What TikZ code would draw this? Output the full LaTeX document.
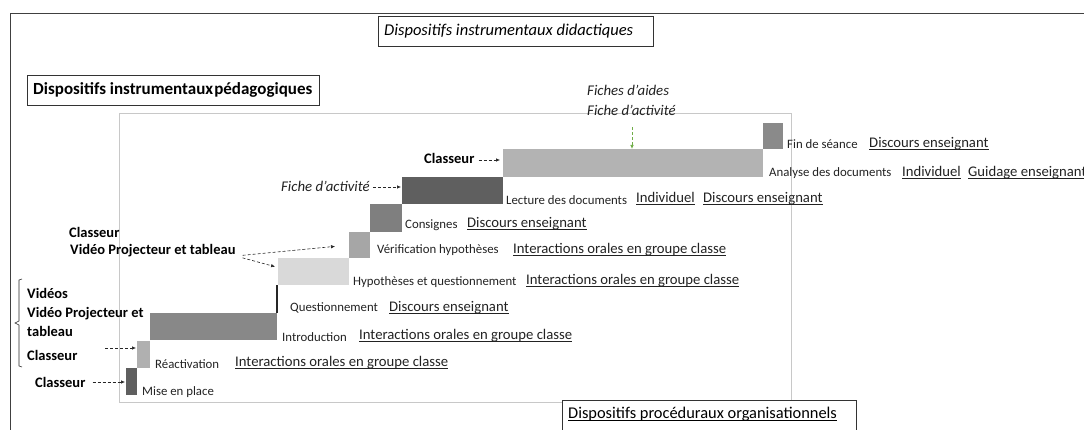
\documentclass[tikz,border=0pt]{standalone}
\usepackage{fontspec}
\setmainfont{Carlito}
\usetikzlibrary{arrows.meta}
\newcommand\myul[1]{\setbox0\hbox{#1}\rlap{\raisebox{-2.4pt}{\rule{\wd0}{1pt}}}\box0}
\definecolor{txt}{HTML}{222222}
\definecolor{frameg}{HTML}{C8C8C8}
\definecolor{cA}{HTML}{5F5F5F}
\definecolor{cB}{HTML}{B0B0B0}
\definecolor{cC}{HTML}{888888}
\definecolor{cD}{HTML}{D9D9D9}
\definecolor{cE}{HTML}{A6A6A6}
\definecolor{cF}{HTML}{7F7F7F}
\definecolor{cG}{HTML}{B3B3B3}
\definecolor{cH}{HTML}{8A8A8A}
\definecolor{grn}{HTML}{70AD47}
\tikzset{
  bar/.style={draw=none, inner sep=0pt, outer sep=0pt, anchor=north west},
  steplabel/.style={anchor=west, inner sep=0pt, text=txt, font=\fontsize{12.8}{14}\selectfont},
  ulabel/.style={anchor=west, inner sep=0pt, text=txt, font=\fontsize{14.7}{16}\selectfont},
  blabel/.style={anchor=west, inner sep=0pt, text=black, font=\bfseries\fontsize{14.5}{19}\selectfont, align=left},
  ilabel/.style={anchor=west, inner sep=0pt, text=txt, font=\itshape\fontsize{14.8}{20}\selectfont, align=left},
  titlebox/.style={draw=black!80, line width=0.8pt, anchor=north west, inner sep=0pt, text=black},
  darr/.style={densely dashed, line width=0.6pt, black!85, -{Latex[length=4pt,width=3.5pt]}},
}
\begin{document}
\begin{tikzpicture}[x=1pt,y=-1pt]
\useasboundingbox (0,0) rectangle (1084,430);
% outer frame
\draw[black!75, line width=0.8pt] (10,430) -- (10,13) -- (1090,13);
% inner light frame
\draw[frameg, line width=0.6pt] (119,113) rectangle (791,402);

% title boxes
\node[titlebox, minimum width=275pt, minimum height=30pt, fill=white] (tdid) at (378,16) {};
\node[anchor=west, inner sep=0pt, font=\itshape\fontsize{16.5}{18}\selectfont] (tdidt) at (384,31) {Dispositifs\ instrumentaux didactiques};
\node[titlebox, minimum width=292pt, minimum height=30pt] (tped) at (27,75) {};
\node[anchor=west, inner sep=0pt, font=\bfseries\fontsize{17}{19}\selectfont] (tpedt) at (33,90) {Dispositifs instrumentaux\kern1pt pédagogiques};
\node[titlebox, minimum width=294pt, minimum height=34pt, fill=white] (tproc) at (562,400) {};
\node[anchor=west, inner sep=0pt, font=\fontsize{16.4}{18}\selectfont] (tproct) at (568,414) {\myul{Dispositifs\ procéduraux organisationnels}};

% bars
\node[bar, fill=cA, minimum width=11pt, minimum height=27pt] (b1) at (126,368) {};
\node[bar, fill=cB, minimum width=13pt, minimum height=27pt] (b2) at (137,341) {};
\node[bar, fill=cC, minimum width=127pt, minimum height=27pt] (b3) at (150,313) {};
\draw[black!85, line width=1.2pt] (b3.north east) coordinate (qbot) -- ++(0,-28) coordinate (qtop);
\node[bar, fill=cD, minimum width=71pt, minimum height=27pt] (b5) at (278,258) {};
\node[bar, fill=cE, minimum width=21pt, minimum height=26pt] (b6) at (349,232) {};
\node[bar, fill=cF, minimum width=32pt, minimum height=28pt] (b7) at (370,204) {};
\node[bar, fill=cA, minimum width=101pt, minimum height=27pt] (b8) at (402,177) {};
\node[bar, fill=cG, minimum width=260pt, minimum height=28pt] (b9) at (503,149) {};
\node[bar, fill=cH, minimum width=20pt, minimum height=26pt] (b10) at (763,123) {};

% step labels
\node[steplabel] (l1) at (142,392) {Mise en place};
\node[steplabel] (l2) at (155,364) {Réactivation};
\node[ulabel] (u2) at (235,363) {\myul{Interactions orales en groupe classe}};
\node[steplabel] (l3) at (282,337) {Introduction};
\node[ulabel] (u3) at (359,336) {\myul{Interactions orales en groupe classe}};
\node[steplabel] (l4) at (290,308) {Questionnement};
\node[ulabel] (u4) at (389,308) {\myul{Discours enseignant}};
\node[steplabel] (l5) at (353,282) {Hypothèses\ et questionnement};
\node[ulabel] (u5) at (526,281) {\myul{Interactions orales en groupe classe}};
\node[steplabel] (l6) at (377,250) {Vérification hypothèses};
\node[ulabel] (u6) at (513,250) {\myul{Interactions orales en groupe classe}};
\node[steplabel] (l7) at (405,225) {Consignes};
\node[ulabel] (u7) at (467,224) {\myul{Discours enseignant}};
\node[steplabel] (l8) at (506,200) {Lecture des documents};
\node[ulabel] (u8a) at (636,199) {\myul{Individuel}};
\node[ulabel] (u8b) at (703,199) {\myul{Discours enseignant}};
\node[steplabel] (l9) at (769,173) {Analyse des documents};
\node[ulabel] (u9a) at (902,173) {\myul{Individuel}};
\node[ulabel] (u9b) at (968,173) {\myul{Guidage enseignant}};
\node[steplabel] (l10) at (787,144) {Fin\ de séance};
\node[ulabel] (u10) at (869,144) {\myul{Discours enseignant}};

% left annotations
\node[blabel] (cl1) at (35,382) {Classeur};
\node[blabel] (grp) at (27,324) {Vidéos\\Vidéo Projecteur et\\tableau\\[5pt]Classeur};
\coordinate (cl2) at (77,348);
\draw[black!85, line width=0.6pt] (22,279) -- (19,280) -- (19,321) -- (15,323) -- (19,325) -- (19,366) -- (22,367);
\node[blabel] (cl3) at (69,232) {Classeur};
\node[blabel] (vp) at (70,251) {Vidéo Projecteur et tableau};
\node[ilabel] (fa) at (281,186) {Fiche d’activité};
\node[blabel] (cl4) at (424,158) {Classeur};
\node[ilabel] (fiches) at (587,100) {Fiches d’aides\\Fiche d’activité};

% arrows
\draw[darr, shorten <=7pt, shorten >=1pt] (cl1.east) -- (cl1.east -| b1.west);
\draw[darr, shorten <=28pt, shorten >=1pt] (cl2) -- (cl2 -| b2.west);
\draw[darr, shorten <=7pt, shorten >=14pt] ([yshift=-5pt]vp.east) -- (b6.west);
\draw[darr, shorten <=7pt, shorten >=3pt] ([yshift=-5pt]vp.east) -- ([yshift=4pt]b5.west);
\draw[darr, shorten <=3pt, shorten >=1pt] ([yshift=-1pt]fa.east) -- ([yshift=-1pt]fa.east -| b8.west);
\draw[darr, shorten <=4pt, shorten >=3pt] ([yshift=-2pt]cl4.east) -- ([yshift=-2pt]cl4.east -| b9.west);
\draw[densely dashed, grn, line width=0.7pt, -{Latex[length=4pt,width=3.5pt]}, shorten <=12pt] (fiches.south -| 632,0) -- (b9.north -| 632,0);
\end{tikzpicture}
\end{document}
